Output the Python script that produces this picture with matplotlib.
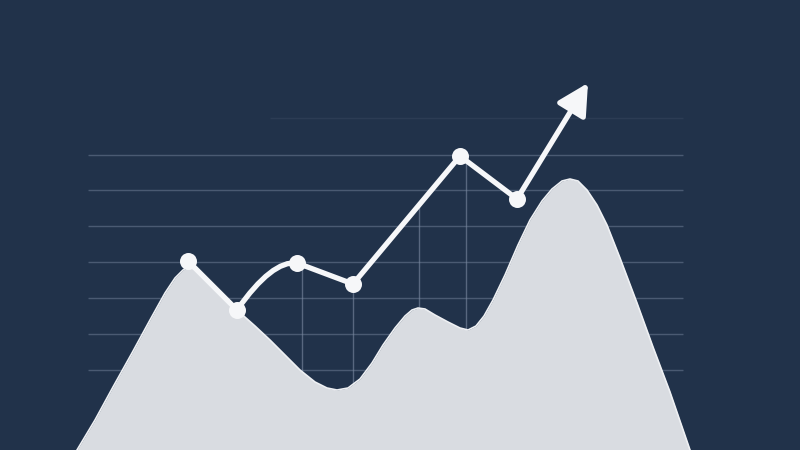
import numpy as np
import matplotlib.pyplot as plt
from matplotlib.path import Path
from matplotlib.patches import PathPatch

# mountain area outline (x, height)
area_x = [77, 95, 113, 132, 150, 165, 175, 183, 188, 194, 205, 220, 237, 255, 270,
          285, 300, 315, 327, 337, 348, 360, 372, 383, 395, 405, 412, 418, 425, 435,
          448, 460, 468, 476, 484, 493, 505, 518, 530, 542, 552, 562, 570, 578, 587,
          597, 607, 620, 637, 653, 670, 690]
area_y = [0, 30, 63, 97, 130, 157, 172, 180, 183, 181, 171, 156, 140, 124, 110,
          95, 80, 68, 62, 60, 62, 71, 87, 105, 122, 134, 140, 142, 141, 135,
          128, 122, 120, 124, 134, 150, 175, 205, 230, 249, 261, 269, 271, 269, 260,
          245, 225, 192, 147, 103, 58, 0]

# trend line markers
line_x = [188, 237, 297, 353, 460, 517]
line_y = [189, 140, 187, 166, 294, 251]
arrow_tip = (588, 367)
curve_ctrl = (272, 190)  # bend between 2nd and 3rd marker

grid_y = [80, 116, 152, 188, 224, 260, 295]
grid_x = [302, 353, 419, 466]
grid_top = [183, 162, 245, 290]

bg = '#21324a'
fill = '#d9dce1'
white = '#f6f7f9'
gridc = '#7d8ca3'

fig = plt.figure(figsize=(8, 4.5), dpi=100, facecolor=bg)
ax = fig.add_axes([0, 0, 1, 1])
ax.set_facecolor(bg)
ax.set_xlim(0, 800)
ax.set_ylim(0, 450)
ax.axis('off')

# faint top line
ax.hlines(332, 270, 683, color=gridc, lw=1, alpha=0.12, zorder=1)
ax.hlines(grid_y, 88, 683, color=gridc, lw=1, alpha=0.45, zorder=1)
ax.vlines(grid_x, 0, grid_top, color=gridc, lw=1, alpha=0.6, zorder=1)

ax.fill_between(area_x, 0, area_y, color=fill, zorder=2, lw=0)
ax.plot(area_x, area_y, color='#eef0f3', lw=1.2, zorder=2)

# line segments
lw = 3.8
ax.plot(line_x[:2], line_y[:2], color=white, lw=lw, solid_capstyle='round', zorder=3)
verts = [(line_x[1], line_y[1]), curve_ctrl, (line_x[2], line_y[2])]
p = Path(verts, [Path.MOVETO, Path.CURVE3, Path.CURVE3])
ax.add_patch(PathPatch(p, facecolor='none', edgecolor=white, lw=lw, capstyle='round', zorder=3))
ax.plot(line_x[2:], line_y[2:], color=white, lw=lw, solid_joinstyle='round', zorder=3)
ax.annotate('', xy=arrow_tip, xytext=(line_x[-1], line_y[-1]),
            arrowprops=dict(arrowstyle='-|>,head_length=0.85,head_width=0.45', lw=lw,
                            color=white, mutation_scale=22, shrinkA=0, shrinkB=0), zorder=3)
ax.scatter(line_x, line_y, s=150, color=white, zorder=4, lw=0)

fig.savefig('out.png', dpi=100, facecolor=bg)
